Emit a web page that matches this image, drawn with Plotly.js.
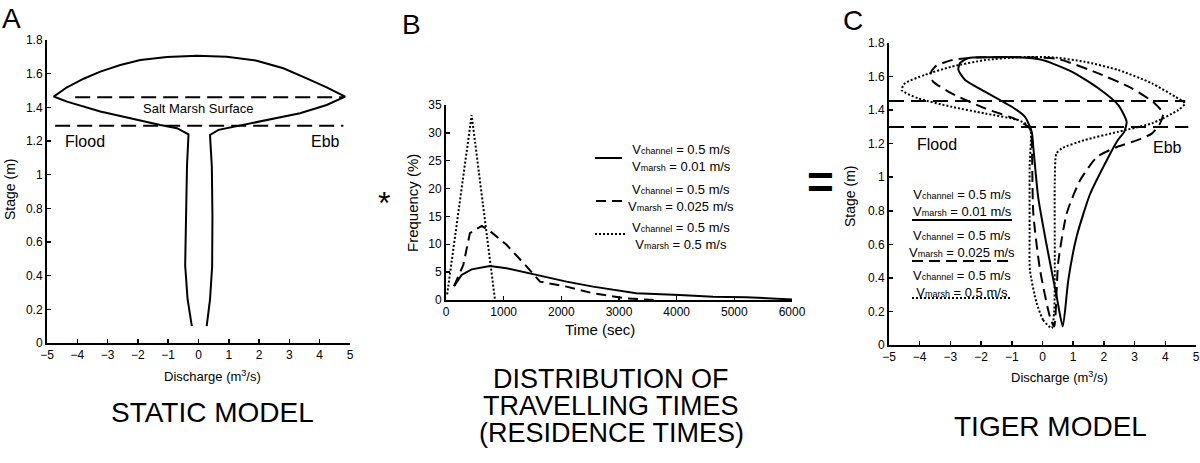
<!DOCTYPE html>
<html>
<head>
<meta charset="utf-8">
<script src="https://cdn.plot.ly/plotly-3.0.1.min.js"></script>
<style>
  html, body { margin: 0; padding: 0; background: #fff; }
  #plot { width: 1200px; height: 463px; }
</style>
</head>
<body>
<div id="plot"></div>
<script>
// --- A: static model outline (discharge m3/s, stage m)
var staticQ = [-0.22, -0.36, -0.44, -0.42, -0.38, -0.33,
  -0.71, -1.26, -2.14, -3.24, -4.34, -4.78,
  -4.34, -3.79, -3.24, -2.58, -1.92, -1.04, -0.05, 0.93, 1.92, 2.80, 3.57, 4.23, 4.84,
  4.23, 3.35, 2.25, 1.37, 0.66, 0.38,
  0.44, 0.46, 0.45, 0.38, 0.27];
var staticStage = [0.10, 0.26, 0.46, 0.75, 1.05, 1.24,
  1.276, 1.295, 1.329, 1.375, 1.434, 1.464,
  1.519, 1.570, 1.612, 1.651, 1.681, 1.699, 1.707, 1.700, 1.677, 1.632, 1.572, 1.519, 1.464,
  1.414, 1.365, 1.325, 1.295, 1.266, 1.236,
  1.048, 0.75, 0.455, 0.257, 0.10];

// marsh surface levels (dashed)
var marshUpperA = {q: [-4.07, 4.78], s: [1.46, 1.46]};
var marshLowerA = {q: [-4.73, 4.78], s: [1.29, 1.29]};
var marshUpperC = {q: [-5, 4.65], s: [1.455, 1.455]};
var marshLowerC = {q: [-5, 4.75], s: [1.30, 1.30]};

// --- B: travelling time distributions
var solidT = [140, 270, 445, 760, 1050, 1400, 1740, 2090, 2550, 2900, 3300, 4050, 4630, 5200, 6000];
var solidF = [2.5, 4.5, 5.5, 6.1, 5.7, 4.9, 4.2, 3.3, 2.4, 1.9, 1.2, 0.9, 0.6, 0.5, 0.1];
var dashT = [140, 300, 415, 620, 760, 1050, 1400, 1630, 2090, 2550, 3130, 3600];
var dashF = [2.5, 6.3, 12.0, 13.3, 12.4, 9.9, 6.0, 3.3, 2.4, 1.2, 0.3, 0];
var dotT = [20, 445, 850];
var dotF = [1.0, 33.2, 0];

// --- C: tiger model loops
var solidQ = [0.66, 0.46, 0.14, -0.14, -0.30, -0.35, -0.57, -1.00, -1.87, -2.52, -2.74, -2.69, -2.42, -1.87,
  -0.80, -0.03, 0.95, 1.82, 2.47, 2.74, 2.66, 2.45, 2.09, 1.55, 1.11, 0.84, 0.66];
var solidS = [0.11, 0.29, 0.59, 0.88, 1.18, 1.27, 1.36, 1.42, 1.51, 1.58, 1.64, 1.68, 1.71, 1.715,
  1.715, 1.70, 1.63, 1.53, 1.43, 1.33, 1.27, 1.22, 1.10, 0.90, 0.645, 0.387, 0.11];
var dashQ = [0.38, 0.24, -0.08, -0.30, -0.36, -0.41, -0.79, -1.87, -2.96, -3.56, -3.66, -3.50, -2.96, -2.31,
  -0.57, 0.51, 1.82, 2.91, 3.66, 3.93, 3.83, 3.56, 3.07, 2.42, 1.77, 1.22, 0.79, 0.51, 0.38];
var dashS = [0.11, 0.17, 0.447, 0.785, 1.25, 1.29, 1.34, 1.41, 1.50, 1.569, 1.609, 1.659, 1.698, 1.712,
  1.715, 1.704, 1.619, 1.53, 1.44, 1.38, 1.321, 1.26, 1.22, 1.18, 1.12, 0.98, 0.785, 0.488, 0.11];
var dotQ = [0.30, 0.02, -0.19, -0.41, -0.42, -0.42, -0.41, -0.79, -1.87, -2.96, -4.05, -4.59, -4.48, -3.83,
  -2.96, -1.87, -0.80, 0.30, 1.38, 2.47, 3.56, 4.32, 4.64, 4.42, 3.56, 2.47, 1.38, 0.63, 0.45, 0.40, 0.40, 0.38, 0.30];
var dotS = [0.10, 0.15, 0.25, 0.447, 0.666, 1.064, 1.30, 1.34, 1.38, 1.42, 1.47, 1.52, 1.56, 1.61,
  1.659, 1.698, 1.715, 1.715, 1.688, 1.639, 1.56, 1.48, 1.44, 1.40, 1.321, 1.271, 1.222, 1.172, 1.14, 0.965, 0.467, 0.20, 0.10];

var legendLines = [
  "V<span style='font-size:9px'>channel</span> = 0.5 m/s<br>V<span style='font-size:9px'>marsh</span> = 0.01 m/s",
  "V<span style='font-size:9px'>channel</span> = 0.5 m/s<br>V<span style='font-size:9px'>marsh</span> = 0.025 m/s",
  "V<span style='font-size:9px'>channel</span> = 0.5 m/s<br>V<span style='font-size:9px'>marsh</span> = 0.5 m/s"
];

// pixel -> paper helpers
function X(px) { return px / 1200; }
function Y(py) { return 1 - py / 463; }

var DASH_H = "15px,7px";
var DASH_C = "11px,6px";
var DOT = "2px,2px";

function line(x, y, xa, ya, dash, shape) {
  return {
    x: x, y: y, xaxis: xa, yaxis: ya, type: "scatter", mode: "lines",
    line: {color: "black", width: 2, dash: dash || "solid", shape: shape || "linear", smoothing: 0.6},
    hoverinfo: "skip"
  };
}

var data = [
  line(staticQ, staticStage, "x", "y"),
  line(marshUpperA.q, marshUpperA.s, "x", "y", DASH_H),
  line(marshLowerA.q, marshLowerA.s, "x", "y", DASH_H),

  line(solidT, solidF, "x2", "y2"),
  line(dashT, dashF, "x2", "y2", "10px,6px"),
  line(dotT, dotF, "x2", "y2", DOT),

  line(marshUpperC.q, marshUpperC.s, "x3", "y3", DASH_H),
  line(marshLowerC.q, marshLowerC.s, "x3", "y3", DASH_H),
  line(solidQ, solidS, "x3", "y3", "solid", "spline"),
  line(dashQ, dashS, "x3", "y3", DASH_C, "spline"),
  line(dotQ, dotS, "x3", "y3", DOT, "spline")
];

function axis(extra) {
  var a = {
    showline: true, linewidth: 2, linecolor: "black",
    ticks: "inside", ticklen: 4, tickwidth: 1.5, tickcolor: "black",
    showgrid: false, zeroline: false, tickfont: {size: 12, color: "black"},
    fixedrange: true
  };
  for (var k in extra) a[k] = extra[k];
  return a;
}

function txt(text, px, py, size, opts) {
  var a = {
    text: text, x: X(px), y: Y(py), xref: "paper", yref: "paper",
    xanchor: "center", yanchor: "middle", showarrow: false,
    font: {size: size, color: "black"}
  };
  for (var k in (opts || {})) a[k] = opts[k];
  return a;
}

function seg(x0, x1, py, dash) {
  return {type: "line", xref: "paper", yref: "paper", x0: X(x0), x1: X(x1), y0: Y(py), y1: Y(py),
    line: {color: "black", width: 2, dash: dash}};
}

var layout = {
  width: 1200, height: 463, autosize: false,
  margin: {l: 0, r: 0, t: 0, b: 0},
  paper_bgcolor: "white", plot_bgcolor: "white",
  showlegend: false,
  font: {family: "Liberation Sans, Arial, sans-serif", color: "black"},
  xaxis: axis({domain: [X(47), X(350)], anchor: "y", range: [-5, 5], dtick: 1}),
  yaxis: axis({domain: [Y(343), Y(40)], anchor: "x", range: [0, 1.8], dtick: 0.2}),
  xaxis2: axis({domain: [X(446), X(792)], anchor: "y2", range: [0, 6000], dtick: 1000}),
  yaxis2: axis({domain: [Y(300), Y(105)], anchor: "x2", range: [0, 35], dtick: 5}),
  xaxis3: axis({domain: [X(889), X(1196)], anchor: "y3", range: [-5, 5], dtick: 1}),
  yaxis3: axis({domain: [Y(345), Y(43)], anchor: "x3", range: [0, 1.8], dtick: 0.2}),
  annotations: [
    txt("A", 11, 18, 28),
    txt("B", 411, 25, 28),
    txt("C", 853, 20, 28),
    txt("*", 384, 203, 32),
    txt("<b>=</b>", 820, 182, 46),

    txt("Salt Marsh Surface", 198, 108, 13),
    txt("Flood", 85, 141, 16),
    txt("Ebb", 325, 141, 16),
    txt("Flood", 937, 145, 16),
    txt("Ebb", 1167, 147, 16),

    txt("Discharge (m<sup>3</sup>/s)", 212, 376, 13),
    txt("Stage (m)", 10, 190, 14, {textangle: -90}),
    txt("Time (sec)", 600, 329, 15),
    txt("Frequency (%)", 412, 203, 15, {textangle: -90}),
    txt("Discharge (m<sup>3</sup>/s)", 1059, 377, 13),
    txt("Stage (m)", 850, 197, 14, {textangle: -90}),

    txt(legendLines[0], 681, 158, 13),
    txt(legendLines[1], 681, 198, 13),
    txt(legendLines[2], 681, 236, 13),
    txt(legendLines[0], 962, 203, 13),
    txt(legendLines[1], 962, 244, 13),
    txt(legendLines[2], 962, 284, 13),

    txt("STATIC MODEL", 212, 412, 28),
    txt("DISTRIBUTION OF", 611, 379, 27),
    txt("TRAVELLING TIMES", 611, 406, 27),
    txt("(RESIDENCE TIMES)", 611, 433, 27),
    txt("TIGER MODEL", 1050, 426, 28)
  ],
  shapes: [
    seg(595, 622, 158, "solid"),
    seg(596, 625, 201, "10px,6px"),
    seg(595, 625, 234, DOT),
    seg(912, 1012, 220, "solid"),
    seg(912, 1012, 261, DASH_C),
    seg(912, 1012, 298, DOT)
  ]
};

Plotly.newPlot("plot", data, layout, {displayModeBar: false, staticPlot: true});
</script>
</body>
</html>
